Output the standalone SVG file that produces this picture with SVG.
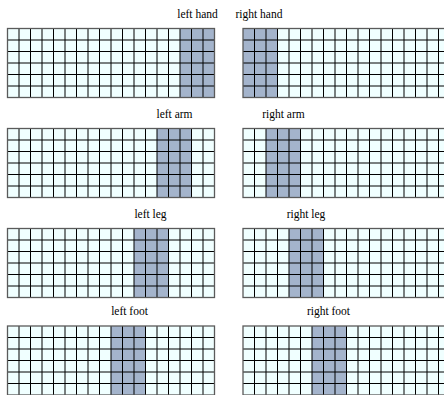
<svg xmlns="http://www.w3.org/2000/svg" xmlns:xlink="http://www.w3.org/1999/xlink" width="444" height="395" viewBox="0 0 444 395">
<style>
.bg{fill:#f0ffff}
.sh{fill:#a4b4cc}
.gl{fill:none;stroke:#000;stroke-width:1}
.bd{fill:none;stroke:#5a5a5a;stroke-width:1.3}
.lb{font-family:"Liberation Serif","Times New Roman",serif;font-size:11.5px;fill:#000;text-anchor:middle}
</style>
<defs>
<path id="gridlines" class="gl" d="M11.5 0V69M23 0V69M34.5 0V69M46 0V69M57.5 0V69M69 0V69M80.5 0V69M92 0V69M103.5 0V69M115 0V69M126.5 0V69M138 0V69M149.5 0V69M161 0V69M172.5 0V69M184 0V69M195.5 0V69M0 11.5H207M0 23H207M0 34.5H207M0 46H207M0 57.5H207"/>
<rect id="frame" class="bd" x="0" y="0" width="207" height="69"/>
<rect id="back" class="bg" x="0" y="0" width="207" height="69"/>
</defs>
<g id="left-hand">
<text class="lb" x="197.5" y="18">left hand</text>
<g transform="translate(7.5,28.5)"><use xlink:href="#back"/><rect class="sh" x="172.5" y="0" width="34.5" height="69"/><use xlink:href="#gridlines"/><use xlink:href="#frame"/></g>
</g>
<g id="right-hand">
<text class="lb" x="259" y="18">right hand</text>
<g transform="translate(243,28.5)"><use xlink:href="#back"/><rect class="sh" x="0" y="0" width="34.5" height="69"/><use xlink:href="#gridlines"/><use xlink:href="#frame"/></g>
</g>
<g id="left-arm">
<text class="lb" x="174.5" y="118">left arm</text>
<g transform="translate(7.5,128.5)"><use xlink:href="#back"/><rect class="sh" x="149.5" y="0" width="34.5" height="69"/><use xlink:href="#gridlines"/><use xlink:href="#frame"/></g>
</g>
<g id="right-arm">
<text class="lb" x="283.5" y="118">right arm</text>
<g transform="translate(243,128.5)"><use xlink:href="#back"/><rect class="sh" x="23" y="0" width="34.5" height="69"/><use xlink:href="#gridlines"/><use xlink:href="#frame"/></g>
</g>
<g id="left-leg">
<text class="lb" x="150.5" y="218">left leg</text>
<g transform="translate(7.5,228.5)"><use xlink:href="#back"/><rect class="sh" x="126.5" y="0" width="34.5" height="69"/><use xlink:href="#gridlines"/><use xlink:href="#frame"/></g>
</g>
<g id="right-leg">
<text class="lb" x="306" y="218">right leg</text>
<g transform="translate(243,228.5)"><use xlink:href="#back"/><rect class="sh" x="46" y="0" width="34.5" height="69"/><use xlink:href="#gridlines"/><use xlink:href="#frame"/></g>
</g>
<g id="left-foot">
<text class="lb" x="129.5" y="315">left foot</text>
<g transform="translate(7.5,326)"><use xlink:href="#back"/><rect class="sh" x="103.5" y="0" width="34.5" height="69"/><use xlink:href="#gridlines"/><use xlink:href="#frame"/></g>
</g>
<g id="right-foot">
<text class="lb" x="328.5" y="315">right foot</text>
<g transform="translate(243,326)"><use xlink:href="#back"/><rect class="sh" x="69" y="0" width="34.5" height="69"/><use xlink:href="#gridlines"/><use xlink:href="#frame"/></g>
</g>
<g id="connectors"/>
</svg>
